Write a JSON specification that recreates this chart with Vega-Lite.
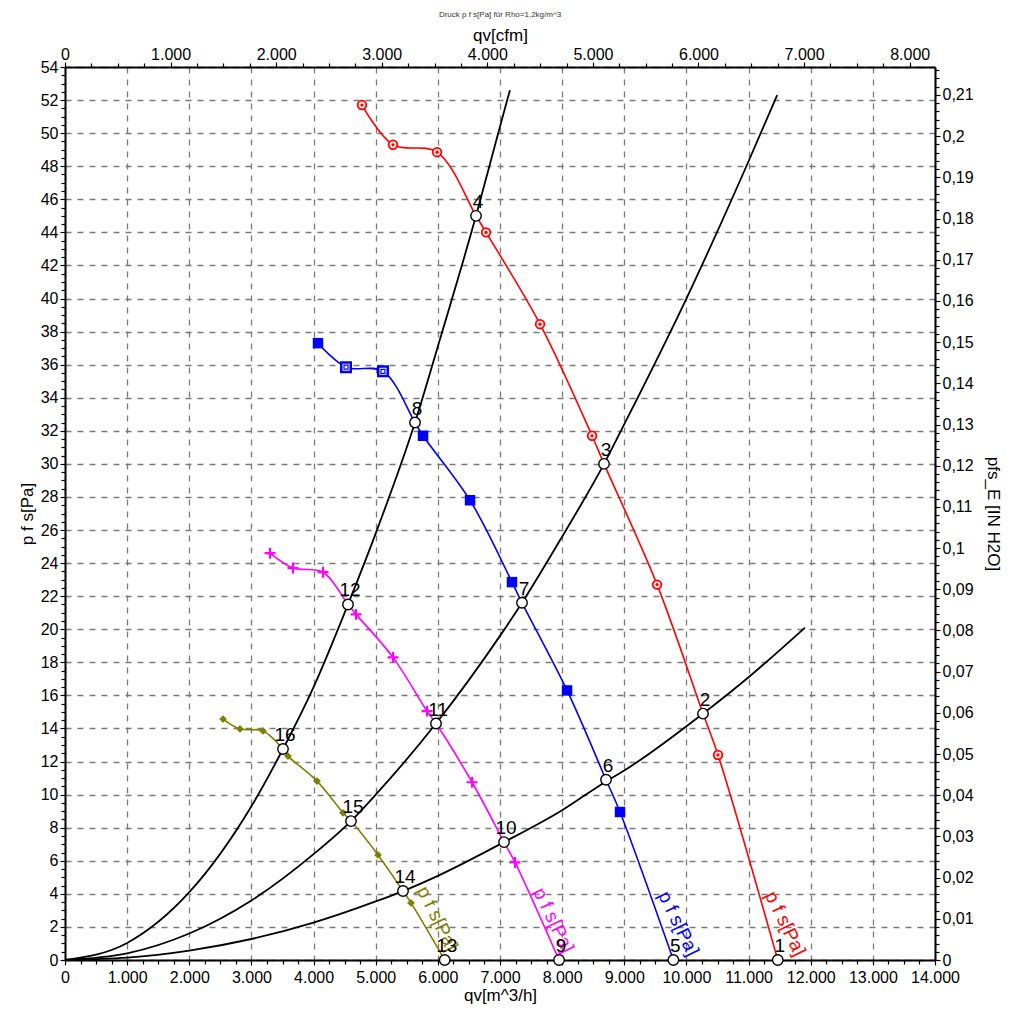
{
  "$schema": "https://vega.github.io/schema/vega-lite/v6.json",
  "width": 870,
  "height": 893,
  "autosize": {"type": "none"},
  "padding": {"left": 65, "top": 67, "right": 82, "bottom": 64},
  "background": "white",
  "title": {"text": "Druck p f s[Pa] für Rho=1,2kg/m^3", "fontSize": 8, "font": "Liberation Sans", "fontWeight": "normal", "color": "#333", "anchor": "middle", "offset": 7},
  "config": {
    "view": {"stroke": null},
    "axis": {"labelFont": "Liberation Sans", "titleFont": "Liberation Sans", "labelFontSize": 16, "titleFontSize": 17, "titleFontWeight": "normal", "labelColor": "#000", "titleColor": "#000", "domainColor": "#000", "domainWidth": 2, "tickColor": "#000", "tickSize": 5, "labelOverlap": false, "labelFlush": false}
  },
  "datasets": {
    "curves": [
      {"s": "red", "q": 4779, "p": 51.7, "k": "m"},
      {"s": "red", "q": 5278, "p": 49.3, "k": "m"},
      {"s": "red", "q": 5987, "p": 48.85, "k": "m"},
      {"s": "red", "q": 6614, "p": 45.0, "k": "op"},
      {"s": "red", "q": 6775, "p": 44.0, "k": "m"},
      {"s": "red", "q": 7644, "p": 38.45, "k": "m"},
      {"s": "red", "q": 8481, "p": 31.7, "k": "m"},
      {"s": "red", "q": 8674, "p": 30.0, "k": "op"},
      {"s": "red", "q": 9527, "p": 22.7, "k": "m"},
      {"s": "red", "q": 10267, "p": 14.9, "k": "op"},
      {"s": "red", "q": 10508, "p": 12.4, "k": "m"},
      {"s": "red", "q": 11470, "p": 0, "k": "op"},
      {"s": "blue", "q": 4071, "p": 37.3, "k": "m"},
      {"s": "blue", "q": 4522, "p": 35.85, "k": "h"},
      {"s": "blue", "q": 5117, "p": 35.6, "k": "h"},
      {"s": "blue", "q": 5632, "p": 32.5, "k": "op"},
      {"s": "blue", "q": 5761, "p": 31.7, "k": "m"},
      {"s": "blue", "q": 6518, "p": 27.8, "k": "m"},
      {"s": "blue", "q": 7193, "p": 22.85, "k": "m"},
      {"s": "blue", "q": 7354, "p": 21.6, "k": "op"},
      {"s": "blue", "q": 8079, "p": 16.3, "k": "m"},
      {"s": "blue", "q": 8706, "p": 10.9, "k": "op"},
      {"s": "blue", "q": 8931, "p": 8.95, "k": "m"},
      {"s": "blue", "q": 9790, "p": 0, "k": "op"},
      {"s": "magenta", "q": 3299, "p": 24.6, "k": "m"},
      {"s": "magenta", "q": 3669, "p": 23.7, "k": "m"},
      {"s": "magenta", "q": 4152, "p": 23.45, "k": "m"},
      {"s": "magenta", "q": 4554, "p": 21.5, "k": "op"},
      {"s": "magenta", "q": 4683, "p": 20.9, "k": "m"},
      {"s": "magenta", "q": 5278, "p": 18.3, "k": "m"},
      {"s": "magenta", "q": 5826, "p": 15.05, "k": "m"},
      {"s": "magenta", "q": 5970, "p": 14.3, "k": "op"},
      {"s": "magenta", "q": 6550, "p": 10.75, "k": "m"},
      {"s": "magenta", "q": 7065, "p": 7.13, "k": "op"},
      {"s": "magenta", "q": 7242, "p": 5.9, "k": "m"},
      {"s": "magenta", "q": 7950, "p": 0, "k": "op"},
      {"s": "olive", "q": 2543, "p": 14.57, "k": "m"},
      {"s": "olive", "q": 2816, "p": 13.97, "k": "m"},
      {"s": "olive", "q": 3186, "p": 13.85, "k": "m"},
      {"s": "olive", "q": 3508, "p": 12.76, "k": "op"},
      {"s": "olive", "q": 3589, "p": 12.33, "k": "m"},
      {"s": "olive", "q": 4055, "p": 10.82, "k": "m"},
      {"s": "olive", "q": 4474, "p": 8.9, "k": "m"},
      {"s": "olive", "q": 4602, "p": 8.4, "k": "op"},
      {"s": "olive", "q": 5037, "p": 6.35, "k": "m"},
      {"s": "olive", "q": 5439, "p": 4.17, "k": "op"},
      {"s": "olive", "q": 5568, "p": 3.45, "k": "m"},
      {"s": "olive", "q": 6110, "p": 0, "k": "op"}
    ],
    "sys": [
      {"c": "A", "q": 0, "p": 0}, {"c": "A", "q": 1000, "p": 1.03}, {"c": "A", "q": 2000, "p": 4.1}, {"c": "A", "q": 3000, "p": 9.3}, {"c": "A", "q": 3508, "p": 12.76}, {"c": "A", "q": 4000, "p": 16.5}, {"c": "A", "q": 4554, "p": 21.5}, {"c": "A", "q": 5000, "p": 25.8}, {"c": "A", "q": 5632, "p": 32.5}, {"c": "A", "q": 6000, "p": 37.1}, {"c": "A", "q": 6614, "p": 45.0}, {"c": "A", "q": 7000, "p": 50.4}, {"c": "A", "q": 7160, "p": 52.6},
      {"c": "B", "q": 0, "p": 0}, {"c": "B", "q": 1000, "p": 0.4}, {"c": "B", "q": 2000, "p": 1.6}, {"c": "B", "q": 3000, "p": 3.6}, {"c": "B", "q": 4000, "p": 6.4}, {"c": "B", "q": 4602, "p": 8.4}, {"c": "B", "q": 5000, "p": 10.0}, {"c": "B", "q": 5970, "p": 14.3}, {"c": "B", "q": 7000, "p": 19.6}, {"c": "B", "q": 7354, "p": 21.6}, {"c": "B", "q": 8000, "p": 25.6}, {"c": "B", "q": 8674, "p": 30.0}, {"c": "B", "q": 9000, "p": 32.4}, {"c": "B", "q": 10000, "p": 40.0}, {"c": "B", "q": 11000, "p": 48.3}, {"c": "B", "q": 11460, "p": 52.3},
      {"c": "C", "q": 0, "p": 0}, {"c": "C", "q": 1000, "p": 0.14}, {"c": "C", "q": 2000, "p": 0.57}, {"c": "C", "q": 3000, "p": 1.27}, {"c": "C", "q": 4000, "p": 2.26}, {"c": "C", "q": 5000, "p": 3.54}, {"c": "C", "q": 5439, "p": 4.17}, {"c": "C", "q": 6000, "p": 5.09}, {"c": "C", "q": 7065, "p": 7.13}, {"c": "C", "q": 8000, "p": 9.06}, {"c": "C", "q": 8706, "p": 10.8}, {"c": "C", "q": 9000, "p": 11.46}, {"c": "C", "q": 10267, "p": 14.9}, {"c": "C", "q": 11000, "p": 17.1}, {"c": "C", "q": 11908, "p": 20.1}
    ],
    "ops": [
      {"n": "1", "q": 11470, "p": 0}, {"n": "2", "q": 10267, "p": 14.9}, {"n": "3", "q": 8674, "p": 30.0}, {"n": "4", "q": 6614, "p": 45.0},
      {"n": "5", "q": 9790, "p": 0}, {"n": "6", "q": 8706, "p": 10.9}, {"n": "7", "q": 7354, "p": 21.6}, {"n": "8", "q": 5632, "p": 32.5},
      {"n": "9", "q": 7950, "p": 0}, {"n": "10", "q": 7065, "p": 7.13}, {"n": "11", "q": 5970, "p": 14.3}, {"n": "12", "q": 4554, "p": 21.5},
      {"n": "13", "q": 6110, "p": 0}, {"n": "14", "q": 5439, "p": 4.17}, {"n": "15", "q": 4602, "p": 8.4}, {"n": "16", "q": 3508, "p": 12.76}
    ],
    "labs": [
      {"s": "red", "t": "p f s[Pa]", "q": 11590, "p": 2.2},
      {"s": "blue", "t": "p f s[Pa]", "q": 9870, "p": 2.2},
      {"s": "magenta", "t": "p f s[Pa]", "q": 7860, "p": 2.4},
      {"s": "olive", "t": "p f s[Pa]", "q": 5990, "p": 2.5}
    ],
    "alt": [{"cfm": 0, "inh": 0}, {"cfm": 8240, "inh": 0.2168}],
    "base": [{"q": 0, "p": 0}, {"q": 14000, "p": 54}]
  },
  "layer": [
    {
      "encoding": {
        "x": {"field": "q", "type": "quantitative", "scale": {"domain": [0, 14000], "nice": false, "zero": false},
              "axis": {"orient": "bottom", "title": "qv[m^3/h]", "values": [0,1000,2000,3000,4000,5000,6000,7000,8000,9000,10000,11000,12000,13000,14000],
                       "labelExpr": "replace(format(datum.value, ','), ',', '.')", "labelPadding": 4, "titlePadding": 2,
                       "grid": true, "gridColor": "#7a7a7a", "gridDash": [6, 6], "gridWidth": 1.3}},
        "y": {"field": "p", "type": "quantitative", "scale": {"domain": [0, 54], "nice": false, "zero": false},
              "axis": {"orient": "left", "title": "p f s[Pa]", "values": [0,2,4,6,8,10,12,14,16,18,20,22,24,26,28,30,32,34,36,38,40,42,44,46,48,50,52,54],
                       "labelPadding": 2, "titlePadding": 4,
                       "grid": true, "gridColor": "#7a7a7a", "gridDash": [6, 6], "gridWidth": 1.3}}
      },
      "layer": [
        {
          "data": {"name": "sys"},
          "mark": {"type": "line", "interpolate": "monotone", "color": "#000", "strokeWidth": 1.8},
          "encoding": {"detail": {"field": "c", "type": "nominal"}}
        },
        {
          "data": {"name": "curves"},
          "mark": {"type": "line", "interpolate": "catmull-rom", "strokeWidth": 1.6},
          "encoding": {
            "color": {"field": "s", "type": "nominal", "legend": null,
                      "scale": {"domain": ["red", "blue", "magenta", "olive"], "range": ["#ff0000", "#0000ff", "#ff00ff", "#808000"]}}
          }
        },
        {
          "data": {"name": "curves"},
          "transform": [{"filter": "datum.s == 'red' && datum.k == 'm'"}],
          "mark": {"type": "point", "shape": "circle", "filled": true, "fill": "#ffe8e8", "stroke": "#ff0000", "strokeWidth": 1.8, "size": 75, "opacity": 1}
        },
        {
          "data": {"name": "curves"},
          "transform": [{"filter": "datum.s == 'red' && datum.k == 'm'"}],
          "mark": {"type": "point", "shape": "circle", "filled": true, "color": "#ff0000", "size": 10, "opacity": 1}
        },
        {
          "data": {"name": "curves"},
          "transform": [{"filter": "datum.s == 'blue' && datum.k == 'm'"}],
          "mark": {"type": "point", "shape": "square", "filled": true, "color": "#0000ff", "size": 110, "opacity": 1}
        },
        {
          "data": {"name": "curves"},
          "transform": [{"filter": "datum.s == 'blue' && datum.k == 'h'"}],
          "mark": {"type": "point", "shape": "square", "filled": true, "fill": "#ffffff", "stroke": "#0000ff", "strokeWidth": 2.5, "size": 90, "opacity": 1}
        },
        {
          "data": {"name": "curves"},
          "transform": [{"filter": "datum.s == 'blue' && datum.k == 'h'"}],
          "mark": {"type": "point", "shape": "square", "filled": false, "stroke": "#0000ff", "strokeWidth": 1.2, "size": 16, "opacity": 1}
        },
        {
          "data": {"name": "curves"},
          "transform": [{"filter": "datum.s == 'magenta' && datum.k == 'm'"}],
          "mark": {"type": "point", "shape": "M-1,0L1,0M0,-1L0,1", "filled": false, "stroke": "#ff00ff", "strokeWidth": 2.2, "size": 120, "opacity": 1}
        },
        {
          "data": {"name": "curves"},
          "transform": [{"filter": "datum.s == 'olive' && datum.k == 'm'"}],
          "mark": {"type": "point", "shape": "diamond", "filled": true, "color": "#808000", "size": 60, "opacity": 1}
        },
        {
          "data": {"name": "labs"},
          "mark": {"type": "text", "angle": 64, "font": "Liberation Sans", "fontSize": 19, "align": "center", "baseline": "middle"},
          "encoding": {
            "text": {"field": "t"},
            "color": {"field": "s", "type": "nominal", "legend": null,
                      "scale": {"domain": ["red", "blue", "magenta", "olive"], "range": ["#ff0000", "#0000ff", "#ff00ff", "#808000"]}}
          }
        },
        {
          "data": {"name": "ops"},
          "mark": {"type": "point", "shape": "circle", "filled": true, "fill": "#ffffff", "stroke": "#000", "strokeWidth": 1.4, "size": 110, "opacity": 1}
        },
        {
          "data": {"name": "ops"},
          "mark": {"type": "text", "font": "Liberation Sans", "fontSize": 19, "color": "#000", "dx": 2, "dy": -14, "align": "center", "baseline": "middle"},
          "encoding": {"text": {"field": "n"}}
        }
      ]
    },
    {
      "data": {"name": "alt"},
      "mark": {"type": "point", "opacity": 0},
      "encoding": {
        "x": {"field": "cfm", "type": "quantitative", "scale": {"domain": [0, 8240], "nice": false, "zero": false},
              "axis": {"orient": "top", "title": "qv[cfm]", "values": [0,1000,2000,3000,4000,5000,6000,7000,8000],
                       "labelExpr": "replace(format(datum.value, ','), ',', '.')", "grid": false, "labelPadding": 0, "titlePadding": 2}},
        "y": {"field": "inh", "type": "quantitative", "scale": {"domain": [0, 0.21679], "nice": false, "zero": false},
              "axis": {"orient": "right", "title": "pfs_E [IN H2O]", "values": [0,0.01,0.02,0.03,0.04,0.05,0.06,0.07,0.08,0.09,0.1,0.11,0.12,0.13,0.14,0.15,0.16,0.17,0.18,0.19,0.2,0.21],
                       "labelExpr": "replace(format(datum.value, '.2~f'), '.', ',')", "grid": false, "labelPadding": 2, "titlePadding": 10}}
      }
    },
    {
      "data": {"name": "base"},
      "mark": {"type": "point", "opacity": 0},
      "encoding": {
        "x": {"field": "q", "type": "quantitative", "scale": {"domain": [0, 14000], "nice": false, "zero": false},
              "axis": {"orient": "bottom", "title": null, "labels": false, "domain": false, "grid": false, "tickSize": 4, "tickWidth": 1.2,
                       "values": [0,250,500,750,1000,1250,1500,1750,2000,2250,2500,2750,3000,3250,3500,3750,4000,4250,4500,4750,5000,5250,5500,5750,6000,6250,6500,6750,7000,7250,7500,7750,8000,8250,8500,8750,9000,9250,9500,9750,10000,10250,10500,10750,11000,11250,11500,11750,12000,12250,12500,12750,13000,13250,13500,13750,14000]}},
        "y": {"field": "p", "type": "quantitative", "scale": {"domain": [0, 54], "nice": false, "zero": false},
              "axis": {"orient": "left", "title": null, "labels": false, "domain": false, "grid": false, "tickSize": 4, "tickWidth": 1.2,
                       "values": [0,0.5,1,1.5,2,2.5,3,3.5,4,4.5,5,5.5,6,6.5,7,7.5,8,8.5,9,9.5,10,10.5,11,11.5,12,12.5,13,13.5,14,14.5,15,15.5,16,16.5,17,17.5,18,18.5,19,19.5,20,20.5,21,21.5,22,22.5,23,23.5,24,24.5,25,25.5,26,26.5,27,27.5,28,28.5,29,29.5,30,30.5,31,31.5,32,32.5,33,33.5,34,34.5,35,35.5,36,36.5,37,37.5,38,38.5,39,39.5,40,40.5,41,41.5,42,42.5,43,43.5,44,44.5,45,45.5,46,46.5,47,47.5,48,48.5,49,49.5,50,50.5,51,51.5,52,52.5,53,53.5,54]}}
      }
    },
    {
      "data": {"name": "alt"},
      "mark": {"type": "point", "opacity": 0},
      "encoding": {
        "x": {"field": "cfm", "type": "quantitative", "scale": {"domain": [0, 8240], "nice": false, "zero": false},
              "axis": {"orient": "top", "title": null, "labels": false, "domain": false, "grid": false, "tickSize": 4, "tickWidth": 1.2,
                       "values": [0,250,500,750,1000,1250,1500,1750,2000,2250,2500,2750,3000,3250,3500,3750,4000,4250,4500,4750,5000,5250,5500,5750,6000,6250,6500,6750,7000,7250,7500,7750,8000]}},
        "y": {"field": "inh", "type": "quantitative", "scale": {"domain": [0, 0.21679], "nice": false, "zero": false},
              "axis": {"orient": "right", "title": null, "labels": false, "domain": false, "grid": false, "tickSize": 4, "tickWidth": 1.2,
                       "values": [0,0.002,0.004,0.006,0.008,0.01,0.012,0.014,0.016,0.018,0.02,0.022,0.024,0.026,0.028,0.03,0.032,0.034,0.036,0.038,0.04,0.042,0.044,0.046,0.048,0.05,0.052,0.054,0.056,0.058,0.06,0.062,0.064,0.066,0.068,0.07,0.072,0.074,0.076,0.078,0.08,0.082,0.084,0.086,0.088,0.09,0.092,0.094,0.096,0.098,0.1,0.102,0.104,0.106,0.108,0.11,0.112,0.114,0.116,0.118,0.12,0.122,0.124,0.126,0.128,0.13,0.132,0.134,0.136,0.138,0.14,0.142,0.144,0.146,0.148,0.15,0.152,0.154,0.156,0.158,0.16,0.162,0.164,0.166,0.168,0.17,0.172,0.174,0.176,0.178,0.18,0.182,0.184,0.186,0.188,0.19,0.192,0.194,0.196,0.198,0.2,0.202,0.204,0.206,0.208,0.21,0.212,0.214,0.216]}}
      }
    }
  ],
  "resolve": {"scale": {"x": "independent", "y": "independent"}}
}
